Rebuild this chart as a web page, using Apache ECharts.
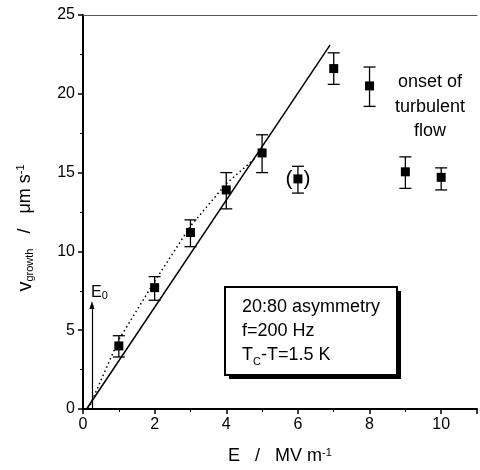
<!DOCTYPE html>
<html>
<head>
    <meta charset="utf-8">
    <title>v growth vs E</title>
    <script src="https://cdn.jsdelivr.net/npm/echarts@6/dist/echarts.min.js"></script>
    <style>
        html, body { margin: 0; padding: 0; background: #fff; }
    </style>
</head>
<body>
    <div id="main" style="width: 480px;height:470px;"></div>
    <script type="text/javascript">
        // measured points
        var eVals = [1, 2, 3, 4, 5, 6, 7, 8, 9, 10];
        var vVals = [4.0, 7.7, 11.2, 13.9, 16.25, 14.6, 21.6, 20.5, 15.05, 14.7];
        var vLow  = [3.3, 6.9, 10.3, 12.7, 15.0, 13.7, 20.6, 19.2, 14.0, 13.9];
        var vHigh = [4.65, 8.4, 12.0, 15.0, 17.4, 15.4, 22.6, 21.7, 16.0, 15.3];
        var bracketed = [6];

        // solid linear fit
        var fitE = [0.1, 6.9];
        var fitV = [0, 23.1];
        // dotted guide line
        var guideE = [0.15, 1, 2, 3, 4, 4.85];
        var guideV = [0, 4.4, 8.1, 11.6, 14.3, 16.0];
        // E0 arrow
        var e0 = 0.25;
        var e0Top = 6.6;

        var xTicks = [0, 2, 4, 6, 8, 10];
        var yTicks = [0, 5, 10, 15, 20, 25];

        var FONT = 'Liberation Sans, Arial, sans-serif';
        var myChart = echarts.init(document.getElementById('main'));

        function pairs(a, b) {
            var out = [];
            for (var i = 0; i < a.length; i++) out.push([a[i], b[i]]);
            return out;
        }

        var points = [];
        for (var i = 0; i < eVals.length; i++) {
            var item = { value: [eVals[i], vVals[i]] };
            if (bracketed.indexOf(eVals[i]) >= 0) {
                item.label = {
                    show: true, position: 'inside',
                    formatter: '{p|(}{g|}{p|)}',
                    rich: {
                        p: { fontSize: 21, color: '#000', fontFamily: FONT },
                        g: { width: 11 }
                    }
                };
            }
            points.push(item);
        }

        var bars = [];
        for (var i = 0; i < eVals.length; i++) bars.push([eVals[i], vLow[i], vHigh[i]]);

        var option = {
            animation: false,
            textStyle: { fontFamily: FONT },
            grid: { left: 83, right: 1, top: 15, bottom: 61 },
            xAxis: [{
                type: 'value', min: 0, max: 11, interval: 2,
                name: '{n|E   /   MV m}{sup|-1}',
                nameLocation: 'middle', nameGap: 38,
                nameTextStyle: {
                    rich: {
                        n: { fontSize: 18, color: '#000', fontFamily: FONT },
                        sup: { fontSize: 11, color: '#000', fontFamily: FONT, verticalAlign: 'top' }
                    }
                },
                axisLine: { lineStyle: { color: '#000', width: 2 } },
                axisTick: { length: 5, lineStyle: { color: '#000', width: 1.5 } },
                minorTick: { show: true, splitNumber: 2, length: 3, lineStyle: { color: '#000' } },
                splitLine: { show: false },
                axisLabel: {
                    color: '#000', fontSize: 16, margin: 8, fontFamily: FONT,
                    formatter: function (v) { return xTicks.indexOf(v) >= 0 ? String(v) : ''; }
                }
            }, {
                type: 'value', position: 'top', min: 0, max: 11,
                axisLine: { show: true, onZero: false, lineStyle: { color: '#555', width: 1.2 } },
                axisTick: { show: false }, axisLabel: { show: false }, splitLine: { show: false }
            }],
            yAxis: {
                type: 'value', min: 0, max: 25, interval: 5,
                axisLine: { show: true, lineStyle: { color: '#000', width: 2 } },
                axisTick: { length: 5, lineStyle: { color: '#000', width: 1.5 } },
                minorTick: { show: true, splitNumber: 2, length: 3, lineStyle: { color: '#000' } },
                splitLine: { show: false },
                axisLabel: {
                    color: '#000', fontSize: 16, margin: 8, fontFamily: FONT,
                    formatter: function (v) { return yTicks.indexOf(v) >= 0 ? String(v) : ''; }
                }
            },
            graphic: [
                // y axis title
                {
                    type: 'text', x: 25, y: 228, rotation: Math.PI / 2,
                    style: {
                        text: '{v|v}{sub|growth}{n|   /   \u03bcm s}{sup|-1}',
                        align: 'center', verticalAlign: 'middle',
                        rich: {
                            v: { fontSize: 20, fill: '#000', fontFamily: FONT },
                            sub: { fontSize: 11, fill: '#000', fontFamily: FONT, verticalAlign: 'bottom' },
                            n: { fontSize: 18, fill: '#000', fontFamily: FONT },
                            sup: { fontSize: 11, fill: '#000', fontFamily: FONT, verticalAlign: 'top' }
                        }
                    }
                },
                // annotation: onset of turbulent flow
                {
                    type: 'text', x: 430, y: 107,
                    style: {
                        text: 'onset of\nturbulent\nflow',
                        align: 'center', verticalAlign: 'middle',
                        fontSize: 18, lineHeight: 24.5, fill: '#000', fontFamily: FONT
                    }
                },
                // E0 label
                {
                    type: 'text', x: 91, y: 285,
                    style: {
                        text: '{e|E}{s|0}',
                        rich: {
                            e: { fontSize: 16, fill: '#000', fontFamily: FONT },
                            s: { fontSize: 11, fill: '#000', fontFamily: FONT, verticalAlign: 'bottom' }
                        }
                    }
                },
                // legend box with shadow
                {
                    type: 'rect', shape: { x: 229, y: 291, width: 172, height: 88 },
                    style: { fill: '#000' }
                },
                {
                    type: 'rect', shape: { x: 225, y: 287, width: 172, height: 88 },
                    style: { fill: '#fff', stroke: '#000', lineWidth: 2 }
                },
                {
                    type: 'text', x: 242, y: 331,
                    style: {
                        text: '{n|20:80 asymmetry}\n{n|f=200 Hz}\n{n|T}{sub|C}{n|-T=1.5 K}',
                        verticalAlign: 'middle',
                        rich: {
                            n: { fontSize: 18, lineHeight: 24, fill: '#000', fontFamily: FONT },
                            sub: { fontSize: 11, lineHeight: 24, fill: '#000', fontFamily: FONT, verticalAlign: 'bottom' }
                        }
                    }
                }
            ],
            series: [{
                name: 'fit',
                type: 'line',
                data: pairs(fitE, fitV),
                symbol: 'none',
                lineStyle: { color: '#000', width: 1.5 },
                z: 2
            }, {
                name: 'guide',
                type: 'line',
                data: pairs(guideE, guideV),
                symbol: 'none',
                lineStyle: { color: '#000', width: 1.5, type: [1.5, 3] },
                z: 2
            }, {
                name: 'E0',
                type: 'line',
                data: [],
                markLine: {
                    silent: true,
                    symbol: ['none', 'triangle'],
                    symbolSize: [5, 8],
                    label: { show: false },
                    lineStyle: { color: '#000', width: 1.2, type: 'solid' },
                    data: [[{ coord: [e0, 0] }, { coord: [e0, e0Top] }]]
                }
            }, {
                name: 'errors',
                type: 'custom',
                data: bars,
                renderItem: function (params, api) {
                    var x = api.value(0);
                    var lo = api.coord([x, api.value(1)]);
                    var hi = api.coord([x, api.value(2)]);
                    var w = 6;
                    var st = { stroke: '#000', lineWidth: 1.3 };
                    return {
                        type: 'group',
                        children: [
                            { type: 'line', shape: { x1: lo[0], y1: lo[1], x2: hi[0], y2: hi[1] }, style: st },
                            { type: 'line', shape: { x1: lo[0] - w, y1: lo[1], x2: lo[0] + w, y2: lo[1] }, style: st },
                            { type: 'line', shape: { x1: hi[0] - w, y1: hi[1], x2: hi[0] + w, y2: hi[1] }, style: st }
                        ]
                    };
                },
                z: 3
            }, {
                name: 'v',
                type: 'scatter',
                data: points,
                symbol: 'rect',
                symbolSize: 9,
                itemStyle: { color: '#000', opacity: 1 },
                z: 4
            }]
        };

        myChart.setOption(option);
    </script>
</body>
</html>
